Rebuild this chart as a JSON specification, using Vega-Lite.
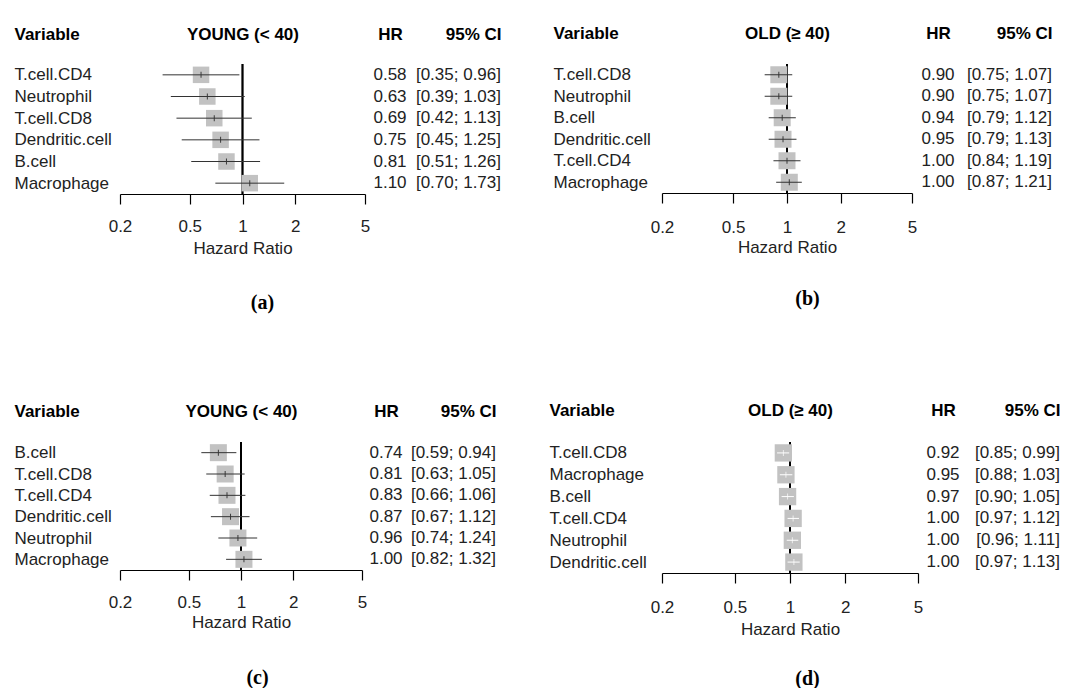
{
  "$schema": "https://vega.github.io/schema/vega-lite/v6.json",
  "background": "white",
  "padding": {"left": 14, "top": 24, "right": 0, "bottom": 0},
  "autosize": {"type": "pad"},
  "config": {"view": {"stroke": null}, "font": "Liberation Sans"},
  "datasets": {
    "a": [
      {"variable": "T.cell.CD4", "hr": 0.58, "est": 0.58, "lo": 0.35, "hi": 0.96, "ci": "[0.35; 0.96]"},
      {"variable": "Neutrophil", "hr": 0.63, "est": 0.63, "lo": 0.39, "hi": 1.03, "ci": "[0.39; 1.03]"},
      {"variable": "T.cell.CD8", "hr": 0.69, "est": 0.69, "lo": 0.42, "hi": 1.13, "ci": "[0.42; 1.13]"},
      {"variable": "Dendritic.cell", "hr": 0.75, "est": 0.75, "lo": 0.45, "hi": 1.25, "ci": "[0.45; 1.25]"},
      {"variable": "B.cell", "hr": 0.81, "est": 0.81, "lo": 0.51, "hi": 1.26, "ci": "[0.51; 1.26]"},
      {"variable": "Macrophage", "hr": 1.10, "est": 1.10, "lo": 0.70, "hi": 1.73, "ci": "[0.70; 1.73]"}
    ],
    "b": [
      {"variable": "T.cell.CD8", "hr": 0.90, "est": 0.90, "lo": 0.75, "hi": 1.07, "ci": "[0.75; 1.07]"},
      {"variable": "Neutrophil", "hr": 0.90, "est": 0.90, "lo": 0.75, "hi": 1.07, "ci": "[0.75; 1.07]"},
      {"variable": "B.cell", "hr": 0.94, "est": 0.94, "lo": 0.79, "hi": 1.12, "ci": "[0.79; 1.12]"},
      {"variable": "Dendritic.cell", "hr": 0.95, "est": 0.95, "lo": 0.79, "hi": 1.13, "ci": "[0.79; 1.13]"},
      {"variable": "T.cell.CD4", "hr": 1.00, "est": 1.00, "lo": 0.84, "hi": 1.19, "ci": "[0.84; 1.19]"},
      {"variable": "Macrophage", "hr": 1.00, "est": 1.03, "lo": 0.87, "hi": 1.21, "ci": "[0.87; 1.21]"}
    ],
    "c": [
      {"variable": "B.cell", "hr": 0.74, "est": 0.74, "lo": 0.59, "hi": 0.94, "ci": "[0.59; 0.94]"},
      {"variable": "T.cell.CD8", "hr": 0.81, "est": 0.81, "lo": 0.63, "hi": 1.05, "ci": "[0.63; 1.05]"},
      {"variable": "T.cell.CD4", "hr": 0.83, "est": 0.83, "lo": 0.66, "hi": 1.06, "ci": "[0.66; 1.06]"},
      {"variable": "Dendritic.cell", "hr": 0.87, "est": 0.87, "lo": 0.67, "hi": 1.12, "ci": "[0.67; 1.12]"},
      {"variable": "Neutrophil", "hr": 0.96, "est": 0.96, "lo": 0.74, "hi": 1.24, "ci": "[0.74; 1.24]"},
      {"variable": "Macrophage", "hr": 1.00, "est": 1.04, "lo": 0.82, "hi": 1.32, "ci": "[0.82; 1.32]"}
    ],
    "d": [
      {"variable": "T.cell.CD8", "hr": 0.92, "est": 0.92, "lo": 0.85, "hi": 0.99, "ci": "[0.85; 0.99]"},
      {"variable": "Macrophage", "hr": 0.95, "est": 0.95, "lo": 0.88, "hi": 1.03, "ci": "[0.88; 1.03]"},
      {"variable": "B.cell", "hr": 0.97, "est": 0.97, "lo": 0.90, "hi": 1.05, "ci": "[0.90; 1.05]"},
      {"variable": "T.cell.CD4", "hr": 1.00, "est": 1.04, "lo": 0.97, "hi": 1.12, "ci": "[0.97; 1.12]"},
      {"variable": "Neutrophil", "hr": 1.00, "est": 1.03, "lo": 0.96, "hi": 1.11, "ci": "[0.96; 1.11]"},
      {"variable": "Dendritic.cell", "hr": 1.00, "est": 1.05, "lo": 0.97, "hi": 1.13, "ci": "[0.97; 1.13]"}
    ]
  },
  "columns": 2,
  "bounds": "flush",
  "spacing": {"row": 248, "column": 297},
  "concat": [
    {
      "width": 245, "height": 130,
      "data": {"name": "a"},
      "resolve": {"scale": {"x": "independent"}, "axis": {"x": "independent"}},
      "layer": [
        {"mark": {"type": "rule", "color": "#000", "strokeWidth": 1.3},
         "encoding": {"x": {"datum": 1, "type": "quantitative", "scale": {"type": "log", "domain": [0.2, 5], "nice": false},
           "axis": {"orient": "top", "title": "YOUNG (< 40)", "labels": false, "ticks": false, "domain": false, "grid": false, "titleY": -25, "titleBaseline": "alphabetic", "titleFont": "Liberation Sans", "titleFontSize": 17, "titleFontWeight": "bold", "titleColor": "#000"}}}},
        {"layer": [
          {"mark": {"type": "square", "size": 272, "color": "#c2c2c2", "opacity": 1},
           "encoding": {"x": {"field": "est", "type": "quantitative", "scale": {"type": "log", "domain": [0.2, 5], "nice": false},
             "axis": {"orient": "bottom", "values": [0.2, 0.5, 1, 2, 5], "format": "~g", "grid": false, "domainColor": "#000", "domainWidth": 1.2, "tickColor": "#000", "tickWidth": 1.2, "tickSize": 10, "labelFont": "Liberation Sans", "labelFontSize": 17, "labelColor": "#222", "labelBaseline": "alphabetic", "labelPadding": 27, "labelFlush": false, "labelOverlap": false, "title": "Hazard Ratio", "titleFont": "Liberation Sans", "titleFontSize": 17, "titleFontWeight": "normal", "titleColor": "#222", "titleBaseline": "alphabetic", "titleY": 59}},
             "y": {"field": "variable", "type": "nominal", "sort": null, "scale": {"type": "point", "padding": 0.5},
               "axis": {"title": "Variable", "titleAngle": 0, "titleAlign": "left", "titleX": -106, "titleY": -25, "titleBaseline": "alphabetic", "titleFont": "Liberation Sans", "titleFontSize": 17, "titleFontWeight": "bold", "titleColor": "#000", "labelAlign": "left", "labelBaseline": "middle", "labelPadding": 106, "ticks": false, "tickSize": 0, "domain": false, "grid": false, "labelFont": "Liberation Sans", "labelFontSize": 17, "labelColor": "#222", "labelLimit": 300}}}},
          {"mark": {"type": "tick", "orient": "vertical", "color": "#000", "size": 6, "thickness": 1},
           "encoding": {"x": {"field": "est", "type": "quantitative"}, "y": {"field": "variable", "type": "nominal", "sort": null}}}
        ]},
        {"mark": {"type": "rule", "color": "#333", "strokeWidth": 1},
         "encoding": {"x": {"field": "lo", "type": "quantitative", "scale": {"type": "log", "domain": [0.2, 5], "nice": false},
           "axis": {"orient": "bottom", "title": "(a)", "labels": false, "ticks": false, "domain": false, "grid": false, "titleX": 142, "titleY": 114, "titleAlign": "center", "titleBaseline": "alphabetic", "titleFont": "Liberation Serif", "titleFontSize": 20, "titleFontWeight": "bold", "titleColor": "#000"}},
           "x2": {"field": "hi"}, "y": {"field": "variable", "type": "nominal", "sort": null}}},
        {"layer": [
          {"mark": {"type": "text", "align": "center", "baseline": "middle", "font": "Liberation Sans", "fontSize": 17, "color": "#222"},
           "encoding": {"x": {"datum": "HR", "type": "nominal", "scale": {"type": "point", "domain": ["HR", "95% CI"], "range": [270, 381], "padding": 0},
             "axis": {"orient": "top", "title": null, "domain": false, "ticks": false, "tickSize": 0, "grid": false, "labelPadding": 25, "labelBaseline": "alphabetic", "labelAngle": 0, "labelFont": "Liberation Sans", "labelFontSize": 17, "labelFontWeight": "bold", "labelColor": "#000", "labelAlign": {"condition": {"test": "datum.value === 'HR'", "value": "center"}, "value": "right"}}},
             "y": {"field": "variable", "type": "nominal", "sort": null},
             "text": {"field": "hr", "type": "quantitative", "format": ".2f"}}},
          {"mark": {"type": "text", "align": "right", "baseline": "middle", "font": "Liberation Sans", "fontSize": 17, "color": "#222"},
           "encoding": {"x": {"datum": "95% CI", "type": "nominal"}, "y": {"field": "variable", "type": "nominal", "sort": null}, "text": {"field": "ci", "type": "nominal"}}}
        ]}
      ]
    },
    {
      "width": 250, "height": 129,
      "data": {"name": "b"},
      "resolve": {"scale": {"x": "independent"}, "axis": {"x": "independent"}},
      "layer": [
        {"mark": {"type": "rule", "color": "#000", "strokeWidth": 1.3},
         "encoding": {"x": {"datum": 1, "type": "quantitative", "scale": {"type": "log", "domain": [0.2, 5], "nice": false},
           "axis": {"orient": "top", "title": "OLD (≥ 40)", "labels": false, "ticks": false, "domain": false, "grid": false, "titleY": -26, "titleBaseline": "alphabetic", "titleFont": "Liberation Sans", "titleFontSize": 17, "titleFontWeight": "bold", "titleColor": "#000"}}}},
        {"layer": [
          {"mark": {"type": "square", "size": 289, "color": "#c2c2c2", "opacity": 1},
           "encoding": {"x": {"field": "est", "type": "quantitative", "scale": {"type": "log", "domain": [0.2, 5], "nice": false},
             "axis": {"orient": "bottom", "values": [0.2, 0.5, 1, 2, 5], "format": "~g", "grid": false, "domainColor": "#000", "domainWidth": 1.2, "tickColor": "#000", "tickWidth": 1.2, "tickSize": 10, "labelFont": "Liberation Sans", "labelFontSize": 17, "labelColor": "#222", "labelBaseline": "alphabetic", "labelPadding": 29, "labelFlush": false, "labelOverlap": false, "title": "Hazard Ratio", "titleFont": "Liberation Sans", "titleFontSize": 17, "titleFontWeight": "normal", "titleColor": "#222", "titleBaseline": "alphabetic", "titleY": 59}},
             "y": {"field": "variable", "type": "nominal", "sort": null, "scale": {"type": "point", "padding": 0.5},
               "axis": {"title": "Variable", "titleAngle": 0, "titleAlign": "left", "titleX": -109, "titleY": -26, "titleBaseline": "alphabetic", "titleFont": "Liberation Sans", "titleFontSize": 17, "titleFontWeight": "bold", "titleColor": "#000", "labelAlign": "left", "labelBaseline": "middle", "labelPadding": 109, "ticks": false, "tickSize": 0, "domain": false, "grid": false, "labelFont": "Liberation Sans", "labelFontSize": 17, "labelColor": "#222", "labelLimit": 300}}}},
          {"mark": {"type": "tick", "orient": "vertical", "color": "#000", "size": 6, "thickness": 1},
           "encoding": {"x": {"field": "est", "type": "quantitative"}, "y": {"field": "variable", "type": "nominal", "sort": null}}}
        ]},
        {"mark": {"type": "rule", "color": "#333", "strokeWidth": 1},
         "encoding": {"x": {"field": "lo", "type": "quantitative", "scale": {"type": "log", "domain": [0.2, 5], "nice": false},
           "axis": {"orient": "bottom", "title": "(b)", "labels": false, "ticks": false, "domain": false, "grid": false, "titleX": 145, "titleY": 111, "titleAlign": "center", "titleBaseline": "alphabetic", "titleFont": "Liberation Serif", "titleFontSize": 20, "titleFontWeight": "bold", "titleColor": "#000"}},
           "x2": {"field": "hi"}, "y": {"field": "variable", "type": "nominal", "sort": null}}},
        {"layer": [
          {"mark": {"type": "text", "align": "center", "baseline": "middle", "font": "Liberation Sans", "fontSize": 17, "color": "#222"},
           "encoding": {"x": {"datum": "HR", "type": "nominal", "scale": {"type": "point", "domain": ["HR", "95% CI"], "range": [276, 390], "padding": 0},
             "axis": {"orient": "top", "title": null, "domain": false, "ticks": false, "tickSize": 0, "grid": false, "labelPadding": 26, "labelBaseline": "alphabetic", "labelAngle": 0, "labelFont": "Liberation Sans", "labelFontSize": 17, "labelFontWeight": "bold", "labelColor": "#000", "labelAlign": {"condition": {"test": "datum.value === 'HR'", "value": "center"}, "value": "right"}}},
             "y": {"field": "variable", "type": "nominal", "sort": null},
             "text": {"field": "hr", "type": "quantitative", "format": ".2f"}}},
          {"mark": {"type": "text", "align": "right", "baseline": "middle", "font": "Liberation Sans", "fontSize": 17, "color": "#222"},
           "encoding": {"x": {"datum": "95% CI", "type": "nominal"}, "y": {"field": "variable", "type": "nominal", "sort": null}, "text": {"field": "ci", "type": "nominal"}}}
        ]}
      ]
    },
    {
      "width": 242, "height": 128,
      "data": {"name": "c"},
      "resolve": {"scale": {"x": "independent"}, "axis": {"x": "independent"}},
      "layer": [
        {"mark": {"type": "rule", "color": "#000", "strokeWidth": 1.3},
         "encoding": {"x": {"datum": 1, "type": "quantitative", "scale": {"type": "log", "domain": [0.2, 5], "nice": false},
           "axis": {"orient": "top", "title": "YOUNG (< 40)", "labels": false, "ticks": false, "domain": false, "grid": false, "titleY": -26, "titleBaseline": "alphabetic", "titleFont": "Liberation Sans", "titleFontSize": 17, "titleFontWeight": "bold", "titleColor": "#000"}}}},
        {"layer": [
          {"mark": {"type": "square", "size": 289, "color": "#c2c2c2", "opacity": 1},
           "encoding": {"x": {"field": "est", "type": "quantitative", "scale": {"type": "log", "domain": [0.2, 5], "nice": false},
             "axis": {"orient": "bottom", "values": [0.2, 0.5, 1, 2, 5], "format": "~g", "grid": false, "domainColor": "#000", "domainWidth": 1.2, "tickColor": "#000", "tickWidth": 1.2, "tickSize": 10, "labelFont": "Liberation Sans", "labelFontSize": 17, "labelColor": "#222", "labelBaseline": "alphabetic", "labelPadding": 27, "labelFlush": false, "labelOverlap": false, "title": "Hazard Ratio", "titleFont": "Liberation Sans", "titleFontSize": 17, "titleFontWeight": "normal", "titleColor": "#222", "titleBaseline": "alphabetic", "titleY": 57}},
             "y": {"field": "variable", "type": "nominal", "sort": null, "scale": {"type": "point", "padding": 0.5},
               "axis": {"title": "Variable", "titleAngle": 0, "titleAlign": "left", "titleX": -106, "titleY": -26, "titleBaseline": "alphabetic", "titleFont": "Liberation Sans", "titleFontSize": 17, "titleFontWeight": "bold", "titleColor": "#000", "labelAlign": "left", "labelBaseline": "middle", "labelPadding": 106, "ticks": false, "tickSize": 0, "domain": false, "grid": false, "labelFont": "Liberation Sans", "labelFontSize": 17, "labelColor": "#222", "labelLimit": 300}}}},
          {"mark": {"type": "tick", "orient": "vertical", "color": "#000", "size": 6, "thickness": 1},
           "encoding": {"x": {"field": "est", "type": "quantitative"}, "y": {"field": "variable", "type": "nominal", "sort": null}}}
        ]},
        {"mark": {"type": "rule", "color": "#333", "strokeWidth": 1},
         "encoding": {"x": {"field": "lo", "type": "quantitative", "scale": {"type": "log", "domain": [0.2, 5], "nice": false},
           "axis": {"orient": "bottom", "title": "(c)", "labels": false, "ticks": false, "domain": false, "grid": false, "titleX": 137, "titleY": 113, "titleAlign": "center", "titleBaseline": "alphabetic", "titleFont": "Liberation Serif", "titleFontSize": 20, "titleFontWeight": "bold", "titleColor": "#000"}},
           "x2": {"field": "hi"}, "y": {"field": "variable", "type": "nominal", "sort": null}}},
        {"layer": [
          {"mark": {"type": "text", "align": "center", "baseline": "middle", "font": "Liberation Sans", "fontSize": 17, "color": "#222"},
           "encoding": {"x": {"datum": "HR", "type": "nominal", "scale": {"type": "point", "domain": ["HR", "95% CI"], "range": [266, 376], "padding": 0},
             "axis": {"orient": "top", "title": null, "domain": false, "ticks": false, "tickSize": 0, "grid": false, "labelPadding": 26, "labelBaseline": "alphabetic", "labelAngle": 0, "labelFont": "Liberation Sans", "labelFontSize": 17, "labelFontWeight": "bold", "labelColor": "#000", "labelAlign": {"condition": {"test": "datum.value === 'HR'", "value": "center"}, "value": "right"}}},
             "y": {"field": "variable", "type": "nominal", "sort": null},
             "text": {"field": "hr", "type": "quantitative", "format": ".2f"}}},
          {"mark": {"type": "text", "align": "right", "baseline": "middle", "font": "Liberation Sans", "fontSize": 17, "color": "#222"},
           "encoding": {"x": {"datum": "95% CI", "type": "nominal"}, "y": {"field": "variable", "type": "nominal", "sort": null}, "text": {"field": "ci", "type": "nominal"}}}
        ]}
      ]
    },
    {
      "width": 256, "height": 131,
      "data": {"name": "d"},
      "resolve": {"scale": {"x": "independent"}, "axis": {"x": "independent"}},
      "layer": [
        {"mark": {"type": "rule", "color": "#000", "strokeWidth": 1.3},
         "encoding": {"x": {"datum": 1, "type": "quantitative", "scale": {"type": "log", "domain": [0.2, 5], "nice": false},
           "axis": {"orient": "top", "title": "OLD (≥ 40)", "labels": false, "ticks": false, "domain": false, "grid": false, "titleY": -27, "titleBaseline": "alphabetic", "titleFont": "Liberation Sans", "titleFontSize": 17, "titleFontWeight": "bold", "titleColor": "#000"}}}},
        {"layer": [
          {"mark": {"type": "square", "size": 300, "color": "#c2c2c2", "opacity": 1},
           "encoding": {"x": {"field": "est", "type": "quantitative", "scale": {"type": "log", "domain": [0.2, 5], "nice": false},
             "axis": {"orient": "bottom", "values": [0.2, 0.5, 1, 2, 5], "format": "~g", "grid": false, "domainColor": "#000", "domainWidth": 1.2, "tickColor": "#000", "tickWidth": 1.2, "tickSize": 10, "labelFont": "Liberation Sans", "labelFontSize": 17, "labelColor": "#222", "labelBaseline": "alphabetic", "labelPadding": 29, "labelFlush": false, "labelOverlap": false, "title": "Hazard Ratio", "titleFont": "Liberation Sans", "titleFontSize": 17, "titleFontWeight": "normal", "titleColor": "#222", "titleBaseline": "alphabetic", "titleY": 61}},
             "y": {"field": "variable", "type": "nominal", "sort": null, "scale": {"type": "point", "padding": 0.5},
               "axis": {"title": "Variable", "titleAngle": 0, "titleAlign": "left", "titleX": -113, "titleY": -27, "titleBaseline": "alphabetic", "titleFont": "Liberation Sans", "titleFontSize": 17, "titleFontWeight": "bold", "titleColor": "#000", "labelAlign": "left", "labelBaseline": "middle", "labelPadding": 113, "ticks": false, "tickSize": 0, "domain": false, "grid": false, "labelFont": "Liberation Sans", "labelFontSize": 17, "labelColor": "#222", "labelLimit": 300}}}},
          {"mark": {"type": "tick", "orient": "vertical", "color": "#fff", "size": 6, "thickness": 1},
           "encoding": {"x": {"field": "est", "type": "quantitative"}, "y": {"field": "variable", "type": "nominal", "sort": null}}}
        ]},
        {"mark": {"type": "rule", "color": "#fff", "strokeWidth": 1},
         "encoding": {"x": {"field": "lo", "type": "quantitative", "scale": {"type": "log", "domain": [0.2, 5], "nice": false},
           "axis": {"orient": "bottom", "title": "(d)", "labels": false, "ticks": false, "domain": false, "grid": false, "titleX": 145, "titleY": 111, "titleAlign": "center", "titleBaseline": "alphabetic", "titleFont": "Liberation Serif", "titleFontSize": 20, "titleFontWeight": "bold", "titleColor": "#000"}},
           "x2": {"field": "hi"}, "y": {"field": "variable", "type": "nominal", "sort": null}}},
        {"layer": [
          {"mark": {"type": "text", "align": "center", "baseline": "middle", "font": "Liberation Sans", "fontSize": 17, "color": "#222"},
           "encoding": {"x": {"datum": "HR", "type": "nominal", "scale": {"type": "point", "domain": ["HR", "95% CI"], "range": [281, 398], "padding": 0},
             "axis": {"orient": "top", "title": null, "domain": false, "ticks": false, "tickSize": 0, "grid": false, "labelPadding": 27, "labelBaseline": "alphabetic", "labelAngle": 0, "labelFont": "Liberation Sans", "labelFontSize": 17, "labelFontWeight": "bold", "labelColor": "#000", "labelAlign": {"condition": {"test": "datum.value === 'HR'", "value": "center"}, "value": "right"}}},
             "y": {"field": "variable", "type": "nominal", "sort": null},
             "text": {"field": "hr", "type": "quantitative", "format": ".2f"}}},
          {"mark": {"type": "text", "align": "right", "baseline": "middle", "font": "Liberation Sans", "fontSize": 17, "color": "#222"},
           "encoding": {"x": {"datum": "95% CI", "type": "nominal"}, "y": {"field": "variable", "type": "nominal", "sort": null}, "text": {"field": "ci", "type": "nominal"}}}
        ]}
      ]
    }
  ]
}
